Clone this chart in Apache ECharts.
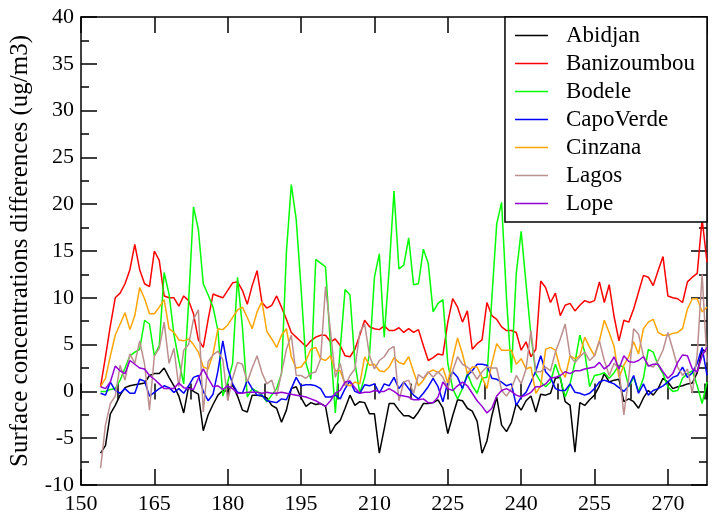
<!DOCTYPE html>
<html>
<head>
<meta charset="utf-8">
<script src="https://cdn.jsdelivr.net/npm/echarts@6/dist/echarts.min.js"></script>
<style>
  html, body { margin: 0; padding: 0; background: #fff; }
  #chart { width: 715px; height: 515px; }
</style>
</head>
<body>
<div id="chart"></div>
<script>
// daily values, first day = 154
const firstDay = 154;

const abidjan = [
  -6.6, -5.8, -2.4, -1.5, -0.4, 0.4, 0.6, 0.7, 0.8, 0.9,
  1.7, 1.9, 1.9, 2.5, 1.5, 0.6, -0.5, -2.3, 0.5, 0.0,
  -0.3, -4.2, -2.5, -1.4, -0.4, 0.1, 0.0, 0.7, -0.5, -2.0,
  -2.2, -0.4, -0.4, -0.5, -0.7, -1.5, -1.8, -3.3, -2.0, 0.3,
  0.5, -0.7, -1.6, -1.2, -1.4, -1.3, -1.6, -4.5, -3.6, -3.1,
  -1.8, -0.4, -1.5, -1.1, -1.2, -2.4, -2.4, -6.6, -4.0, -1.3,
  -1.3, -2.0, -2.6, -2.6, -2.9, -2.2, -1.3, -1.3, -1.2, -0.9,
  -1.8, -4.5, -2.6, -0.9, -1.0, -1.8, -2.1, -3.2, -6.6, -5.3,
  -2.6, -0.6, -3.6, -4.3, -3.3, -1.3, -2.0, -1.0, -0.5, -2.2,
  -0.3, -0.4, -0.2, 1.4, 1.5, -1.1, -1.5, -6.5, -1.2, -1.5,
  -0.9, -0.4, 0.6, 1.9, 1.0, 1.2, 1.3, -1.1, -0.8, -1.1,
  -1.8, -0.7, 0.1, -0.4, 0.3, 1.4, 1.0, 0.3, 0.5, 0.6,
  0.8, 0.9, 2.0, 4.5, 4.2
];

const banizoumbou = [
  0.5, 3.7, 7.0, 10.0, 10.5, 11.5, 13.0, 15.7, 13.0, 11.5,
  11.2, 15.0, 14.0, 10.2, 10.0, 10.0, 9.1, 10.2, 9.7, 8.3,
  5.5, 4.7, 7.7, 10.4, 10.2, 10.0, 10.8, 11.6, 11.7, 10.8,
  9.3, 11.3, 12.9, 9.5, 8.9, 9.2, 10.2, 9.0, 7.7, 6.3,
  5.8, 5.3, 4.8, 5.4, 5.8, 6.0, 6.0, 5.3, 5.6, 4.9,
  3.8, 3.7, 4.5, 6.0, 7.6, 6.9, 6.7, 6.6, 7.0, 6.5,
  6.5, 6.8, 6.3, 6.7, 6.3, 6.6, 4.9, 3.3, 3.6, 4.0,
  3.9, 7.4, 9.9, 9.0, 7.4, 8.6, 4.5, 5.1, 5.5, 9.5,
  8.1, 7.7, 6.9, 6.5, 6.5, 6.3, 4.4, 5.3, 3.7, 4.5,
  11.8, 11.1, 9.5, 10.5, 8.1, 9.2, 9.4, 8.6, 9.2, 9.7,
  9.5, 9.7, 11.7, 9.5, 11.4, 8.0, 5.4, 7.6, 7.4, 8.8,
  10.6, 12.4, 12.2, 11.3, 12.9, 14.4, 10.2, 10.0, 9.9, 9.5,
  11.7, 12.2, 12.6, 18.4, 13.8
];

const bodele = [
  0.0, 0.0, 0.2, 0.3, 1.2, 2.5, 3.8, 4.2, 4.5, 7.6,
  7.2, 3.8, 4.9, 12.7, 10.4, 6.1, 3.3, 0.8, 9.5, 19.7,
  17.3, 11.5, 10.3, 9.0, 6.5, -0.5, 1.0, 3.0, 12.2, 6.9,
  -0.6, 0.3, 0.0, -0.4, -1.1, -0.4, 0.3, 1.9, 14.9, 22.1,
  18.4, 11.0, 3.0, 1.3, 14.1, 13.7, 13.3, 5.0, -2.3, 4.5,
  10.9, 10.3, 3.1, -0.2, 1.5, 4.0, 12.2, 14.7, 5.8, 13.0,
  21.4, 13.1, 13.5, 16.4, 11.4, 11.5, 15.2, 13.7, 8.5, 9.4,
  9.8, 3.0, 0.3, -0.8, 0.3, 1.9, 0.6, -0.2, 1.4, 1.5,
  9.9, 17.9, 20.2, 10.0, 2.0, 12.6, 17.1, 11.5, 6.0, 1.9,
  1.0, 0.5, 1.0, 2.9, 1.4, -0.6, 0.8, 3.1, 6.0, 4.2,
  0.5, 1.7, 1.8, 2.0, 1.4, 2.0, 2.8, 2.6, 0.5, 1.5,
  0.0, 1.4, 4.5, 4.2, 2.8, 1.9, 0.5, 0.0, 0.1, 1.4,
  1.9, 2.2, 0.6, -1.3, 1.0
];

const capoVerde = [
  -0.2, -0.4, 1.0, 0.1, -0.2, 0.3, -0.2, -0.2, 1.3, 1.1,
  -0.5, -0.1, 0.3, 0.6, 0.4, -0.1, 0.3, -0.2, 0.6, 1.5,
  1.7, 0.0, -1.0, -0.3, 2.2, 5.4, 2.5, 0.8, -0.1, -0.2,
  1.2, 0.3, -0.4, -0.4, -1.0, -1.1, -1.2, -0.8, -0.9, 0.3,
  1.5, 0.6, 0.7, 0.7, 0.6, 0.3, -0.6, -0.6, -0.4, -0.8,
  0.3, 1.1, 0.0, -0.2, 0.7, 0.6, 0.8, -0.2, 0.8, 0.6,
  1.5, 0.3, 1.0, 0.3, -0.4, -0.8, -0.2, 0.5, 1.4, 0.5,
  -1.1, 1.0, 2.1, 1.5, 0.3, 1.7, 2.2, 2.9, 2.9, 2.8,
  1.4, 1.3, 1.0, 0.6, 0.8, -1.5, -0.6, -0.1, 1.0, 2.2,
  3.8, 2.1, 1.5, 0.3, 0.1, 0.1, 0.8, -0.1, -0.2, -0.4,
  -0.2, 0.3, 1.0, 1.2, 1.0, 0.8, 0.4, 0.0, 0.6, 1.7,
  -0.2, 0.8, -0.4, 0.1, 0.3, 0.6, 1.0, 1.5, 1.7, 2.6,
  1.5, 2.0, 3.0, 4.7, 1.7
];

const cinzana = [
  0.5, 1.4, 3.8, 6.0, 7.2, 8.4, 6.6, 8.1, 11.1, 9.9,
  8.3, 8.3, 9.0, 9.8, 6.7, 6.3, 5.5, 5.4, 5.6, 5.0,
  4.2, 2.6, 2.4, 4.0, 6.7, 6.6, 7.1, 7.9, 8.7, 9.0,
  7.9, 6.7, 8.5, 9.6, 6.4, 5.6, 4.7, 6.0, 6.7, 3.7,
  2.5, 2.6, 3.3, 4.5, 4.7, 3.5, 3.3, 3.8, 2.2, 2.2,
  0.8, 0.6, 1.0, 0.8, 3.7, 2.8, 2.9, 2.2, 2.1, 2.6,
  3.6, 3.1, 2.9, 3.7, 2.1, 0.6, 1.2, 2.0, 2.3, 2.0,
  2.5, 0.9, 3.5, 5.7, 4.0, 1.9, 2.6, 2.6, 1.5, 0.3,
  3.0, 5.1, 4.4, 4.4, 4.4, 2.9, 3.5, 2.4, 2.6, -0.2,
  0.6, 4.5, 4.7, 4.4, 2.4, 1.5, 3.8, 3.5, 3.8, 5.8,
  4.7, 3.8, 5.4, 7.6, 6.3, 4.8, 1.5, 2.8, 3.7, 5.3,
  4.0, 6.7, 7.4, 7.7, 6.3, 6.0, 6.0, 6.2, 6.3, 6.7,
  8.8, 9.9, 9.9, 8.5, 9.0
];

const lagos = [
  -8.2, -3.6, -1.3, -0.5, 2.8, 1.2, 4.0, 3.0, 5.4, 2.9,
  -2.0, 3.8, 4.6, 7.4, 3.0, 4.6, 0.5, 4.4, 5.0, 7.7,
  8.7, -2.2, 3.2, 3.9, 4.3, 3.4, -1.0, 1.4, 3.1, 2.9,
  1.0, 2.5, 3.8, 2.0, 0.8, 1.2, -0.5, 2.0, 4.5, 6.0,
  1.7, 1.7, 1.4, 1.9, 2.1, 3.5, 11.2, 6.5, 1.5, 3.0,
  0.6, 1.7, 2.4, 6.3, 7.2, 3.8, 2.4, 3.3, 3.7, 4.5,
  4.8, -1.0, 1.0, 1.2, -0.2, 1.8, 1.4, 2.1, 1.5, 2.1,
  1.5, 0.3, 2.2, 3.7, 2.9, 2.6, 2.1, 1.3, 2.1, 2.6,
  2.5, 2.5, 0.1, -0.5, 0.3, 1.7, 0.8, 2.4, 6.5, 2.1,
  2.1, 2.6, 2.2, 4.2, 5.6, 7.2, 3.8, 3.1, 3.7, 4.2,
  3.3, 3.8, 5.4, 3.3, 1.7, 3.0, 2.4, -2.5, 1.5, 6.7,
  6.1, 3.8, 2.8, 2.6, 3.3, 4.4, 6.3, 4.5, 2.6, 1.7,
  2.4, -0.2, 4.0, 12.5, 3.1
];

const lope = [
  0.5, 0.3, 1.0, 2.7, 2.2, 1.9, 3.3, 2.9, 2.5, 2.4,
  1.7, 1.3, 0.8, 0.3, 0.3, 0.3, 0.9, 0.4, 0.3, 0.2,
  1.4, 2.4, 1.4, 0.5, 0.6, 0.2, 0.6, 0.3, -0.2, -0.2,
  -0.1, -0.1, -0.1, -0.2, -0.1, -0.2, -0.2, -0.1, -0.2, -0.3,
  -0.4, -0.5, -0.6, -0.8, -1.0, -1.3, -1.6, -1.0, -0.2, 0.1,
  1.0, 1.1, 0.4, -0.2, -0.1, -0.1, 0.1, 0.0, 0.0, 0.3,
  0.0, -0.4, -0.5, -0.6, -0.9, -0.9, -0.8, -1.2, -1.2, -0.6,
  1.0, 0.3, 0.1, 0.6, 1.0, 0.6, -0.2, -1.0, -1.6, -2.3,
  -1.8, -0.5, 0.1, 0.3, 0.0, -0.4, -0.6, -0.4, -0.1, 0.5,
  0.5, 0.8, 1.4, 1.5, 1.7, 2.1, 1.9, 2.2, 2.2, 2.4,
  2.5, 2.6, 3.1, 2.4, 2.8, 3.7, 2.4, 3.8, 3.2, 3.1,
  3.3, 3.7, 2.7, 2.9, 2.9, 2.1, 1.4, 1.9, 3.1, 3.9,
  3.8, 2.4, 2.1, 3.8, 4.7
];

const names = ['Abidjan', 'Banizoumbou', 'Bodele', 'CapoVerde', 'Cinzana', 'Lagos', 'Lope'];
const values = [abidjan, banizoumbou, bodele, capoVerde, cinzana, lagos, lope];
const colors = ['#000000', '#ff0000', '#00ff00', '#0000ff', '#ffa500', '#bc8f8f', '#9400d3'];

const serif = "'Liberation Serif', 'Times New Roman', serif";
const black = '#000';

function pairs(arr) {
  return arr.map((v, i) => [firstDay + i, v]);
}

const chart = echarts.init(document.getElementById('chart'), null, { renderer: 'canvas' });

const frameLine = { show: true, onZero: false, lineStyle: { color: black, width: 1.5 } };
const majorTick = { show: true, inside: true, length: 16, lineStyle: { color: black, width: 1.5 } };
const minorTickX = { show: true, inside: true, length: 8, lineStyle: { color: black, width: 1.5 } };

function xAxisDef(pos, interval, tick, labels) {
  return {
    type: 'value', position: pos, min: 150, max: 278, interval: interval,
    axisLine: labels !== null ? frameLine : { show: false },
    axisTick: tick,
    axisLabel: labels ? labels : { show: false },
    splitLine: { show: false }
  };
}

function yAxisDef(pos, labels) {
  return {
    type: 'value', position: pos, min: -10, max: 40, interval: 5,
    axisLine: frameLine,
    axisTick: majorTick,
    minorTick: { show: true, splitNumber: 2, length: 8, lineStyle: { color: black, width: 1.5 } },
    axisLabel: labels ? labels : { show: false },
    splitLine: { show: false },
    minorSplitLine: { show: false }
  };
}

const yLeft = yAxisDef('left', {
  show: true, margin: 7, color: black, fontFamily: serif, fontSize: 22
});
yLeft.name = 'Surface concentrations differences (ug/m3)';
yLeft.nameLocation = 'middle';
yLeft.nameGap = 48;
yLeft.nameTextStyle = { color: black, fontFamily: serif, fontSize: 25 };

chart.setOption({
  animation: false,
  backgroundColor: '#fff',
  grid: { left: 79, right: 8, top: 17, bottom: 29, containLabel: false },
  xAxis: [
    xAxisDef('bottom', 15, majorTick, {
      show: true, margin: 8, color: black, fontFamily: serif, fontSize: 22, showMaxLabel: false
    }),
    xAxisDef('top', 15, majorTick, false),
    xAxisDef('bottom', 7.5, minorTickX, null),
    xAxisDef('top', 7.5, minorTickX, null)
  ],
  yAxis: [yLeft, yAxisDef('right', false)],
  legend: {
    data: names,
    orient: 'vertical',
    right: 8,
    top: 17,
    icon: 'rect',
    itemWidth: 33,
    itemHeight: 1.5,
    itemGap: 5,
    padding: [7, 12, 7, 10],
    borderColor: black,
    borderWidth: 1.5,
    borderRadius: 0,
    backgroundColor: '#fff',
    selectedMode: false,
    textStyle: { color: black, fontFamily: serif, fontSize: 23, lineHeight: 22, padding: [0, 0, 0, 13] }
  },
  series: names.map((name, i) => ({
    name: name,
    type: 'line',
    xAxisIndex: 0,
    yAxisIndex: 0,
    data: pairs(values[i]),
    symbol: 'none',
    color: colors[i],
    lineStyle: { color: colors[i], width: 1.5 }
  }))
});
</script>
</body>
</html>
